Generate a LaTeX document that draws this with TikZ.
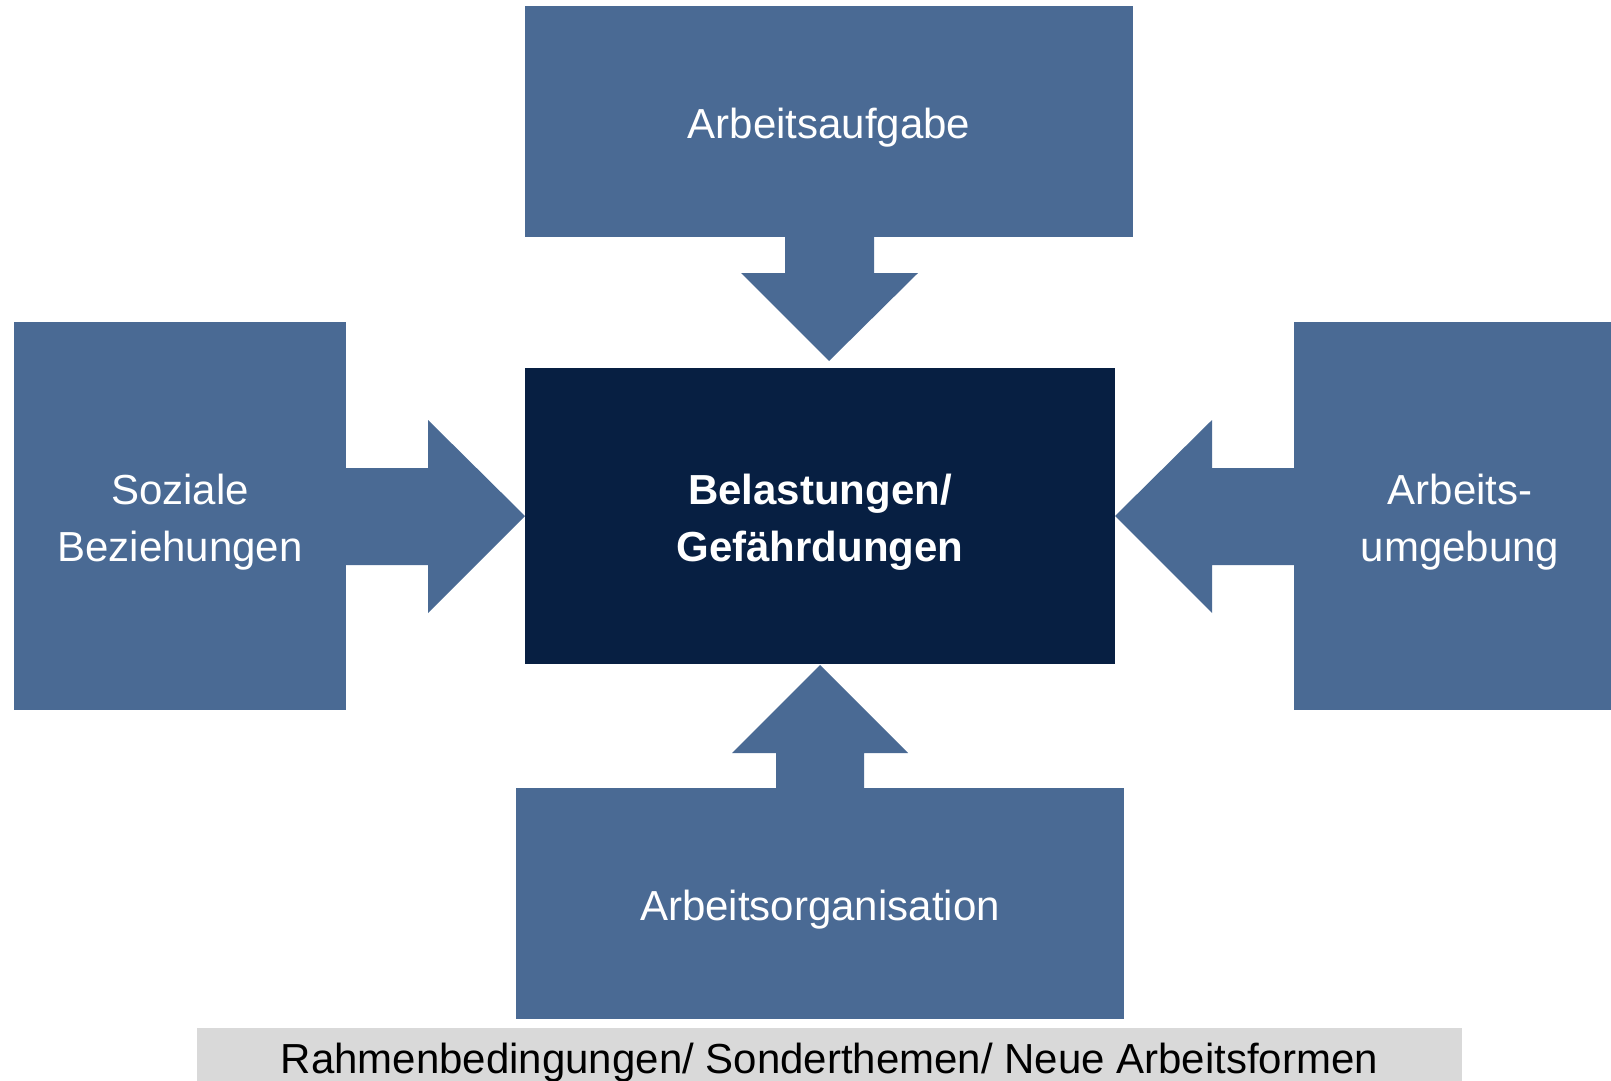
\documentclass[tikz,border=0pt]{standalone}
\usepackage{fontspec}
\setmainfont{Liberation Sans}
\definecolor{boxblue}{RGB}{74,106,148}
\definecolor{navy}{RGB}{7,31,66}
\definecolor{bargray}{RGB}{217,217,217}
\begin{document}
\begin{tikzpicture}[x=1bp,y=-1bp,
  txt/.style={font=\fontsize{42bp}{57bp}\selectfont, align=center, inner sep=0pt},
  box/.style={fill=boxblue, inner sep=0pt, minimum width=#1},
  hub/.style={fill=navy, inner sep=0pt},
  lbl/.style={txt, text=white, yshift=-6bp},
  hublbl/.style={lbl, font=\fontsize{42bp}{57bp}\selectfont\bfseries},
  blockarrow/.style={fill=boxblue}]
\useasboundingbox (0,0) rectangle (1611,1080);
\clip (0,0) rectangle (1611,1080);

% factor boxes
\node[box=608bp, minimum height=231bp] (task) at (829,121.5) {};
\node[box=332bp, minimum height=388bp] (social) at (180,516) {};
\node[box=332bp, minimum height=388bp] (env) at (1460,516) {};
\node[box=608bp, minimum height=231bp] (org) at (820,903.5) {};

% central node
\node[hub, minimum width=590bp, minimum height=296bp] (load) at (820,516) {};

% labels
\node[lbl] (task-l) at (task.center) {Arbeitsaufgabe};
\node[lbl] (social-l) at (social.center) {Soziale\\Beziehungen};
\node[lbl] (env-l) at (env.center) {Arbeits-\\umgebung};
\node[lbl] (org-l) at (org.center) {Arbeitsorganisation};
\node[hublbl] (load-l) at (load.center) {Belastungen/\\Gefährdungen};

% block arrows pointing at the centre
\fill[blockarrow] (785,236) -- (874,236) -- (874,273) -- (918,273) -- (829,361) -- (741,273) -- (785,273) -- cycle;
\fill[blockarrow] (345,468) -- (428,468) -- (428,420) -- (525,516) -- (428,613) -- (428,565) -- (345,565) -- cycle;
\fill[blockarrow] (1295,468) -- (1212,468) -- (1212,420) -- (1115,516) -- (1212,613) -- (1212,565) -- (1295,565) -- cycle;
\fill[blockarrow] (776,789) -- (776,753) -- (732,753) -- (820,665) -- (908,753) -- (864,753) -- (864,789) -- cycle;

% framework bar
\node[fill=bargray, inner sep=0pt, minimum width=1265bp, minimum height=60bp] (bar) at (829.5,1058) {};
\node[txt, anchor=base] (frame) at (829.5,1073) {Rahmenbedingungen/ Sonderthemen/ Neue Arbeitsformen};
\end{tikzpicture}
\end{document}
